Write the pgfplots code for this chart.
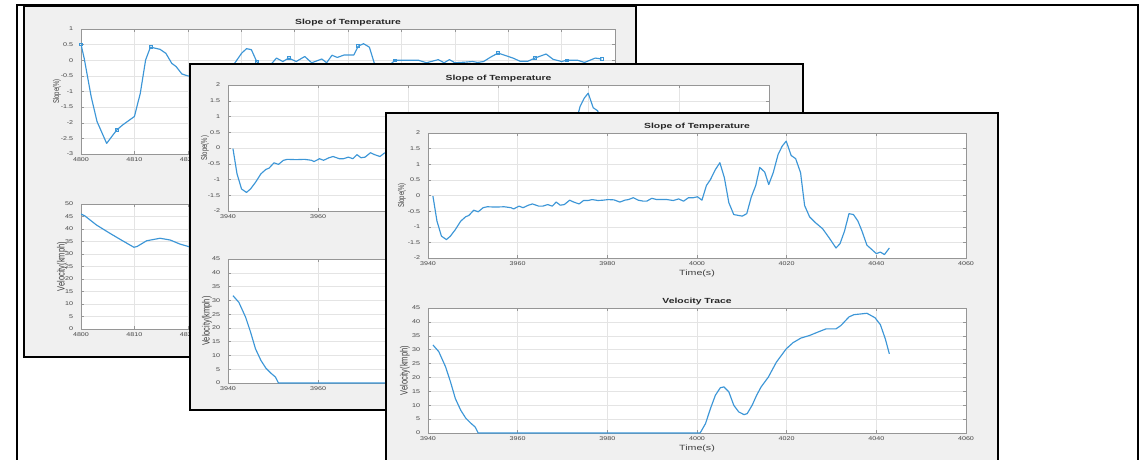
\documentclass[border=0pt]{standalone}
\usepackage{pgfplots}
\usepackage{pgfplotstable}
\pgfplotsset{compat=1.18}
\usepackage{fontspec}
\setmainfont{Liberation Sans}
\definecolor{mblue}{RGB}{60,150,215}
\definecolor{wingray}{RGB}{240,240,240}
\definecolor{gridc}{RGB}{228,228,228}
\definecolor{boxc}{RGB}{150,150,150}
\definecolor{tickc}{RGB}{70,70,70}

\pgfplotstableread{
t v
3941.1 -0.02
3942.0 -0.82
3943.0 -1.30
3944.1 -1.41
3945.0 -1.30
3946.1 -1.09
3947.3 -0.82
3948.4 -0.68
3949.1 -0.64
3950.2 -0.47
3951.2 -0.52
3952.3 -0.39
3953.2 -0.36
3955.1 -0.37
3957.0 -0.36
3958.5 -0.39
3959.1 -0.43
3960.3 -0.34
3961.2 -0.39
3962.4 -0.31
3963.3 -0.27
3964.7 -0.34
3965.6 -0.34
3966.7 -0.29
3967.7 -0.34
3968.6 -0.21
3969.5 -0.31
3970.4 -0.29
3971.6 -0.15
3972.5 -0.21
3973.7 -0.27
3974.7 -0.16
3975.7 -0.16
3976.6 -0.13
3977.9 -0.16
3979.0 -0.15
3980.2 -0.13
3981.5 -0.14
3982.8 -0.21
3983.9 -0.15
3984.7 -0.13
3985.8 -0.07
3986.9 -0.15
3988.0 -0.18
3988.8 -0.18
3989.9 -0.09
3991.0 -0.13
3992.1 -0.13
3993.3 -0.13
3994.7 -0.16
3995.9 -0.11
3997.0 -0.18
3998.1 -0.07
3999.2 -0.07
4000.1 -0.04
4001.1 -0.15
4002.1 0.32
4003.0 0.51
4004.1 0.83
4005.1 1.05
4006.1 0.57
4007.1 -0.23
4008.2 -0.61
4010.1 -0.66
4011.1 -0.58
4012.1 -0.05
4013.1 0.32
4014.0 0.90
4015.1 0.75
4016.0 0.35
4017.0 0.73
4018.1 1.32
4019.0 1.58
4019.9 1.74
4021.0 1.28
4022.0 1.18
4023.1 0.73
4024.0 -0.32
4025.1 -0.68
4026.5 -0.88
4028.0 -1.06
4029.5 -1.36
4031.0 -1.68
4031.9 -1.54
4032.9 -1.14
4033.9 -0.58
4034.9 -0.61
4035.9 -0.82
4036.8 -1.14
4037.9 -1.59
4039.0 -1.73
4040.0 -1.86
4040.9 -1.81
4041.8 -1.89
4042.9 -1.68
}\slopetab

\pgfplotstableread{
t v
3941.1 31.7
3942.4 29.3
3943.9 23.9
3945.0 18.5
3946.1 12.4
3947.3 8.2
3948.4 5.4
3949.5 3.6
3950.5 2.2
3951.2 0
4000.7 0
4001.9 3.4
4003.0 8.8
4004.1 13.6
4005.2 16.3
4006.0 16.6
4007.1 14.8
4008.2 10.0
4009.3 7.6
4010.5 6.6
4011.2 7.0
4012.3 10.0
4013.3 13.6
4014.3 16.6
4015.9 20.1
4017.7 25.5
4019.9 30.3
4021.4 32.5
4023.2 34.2
4025.1 35.1
4026.9 36.3
4028.8 37.5
4031.0 37.5
4032.1 38.7
4033.9 41.8
4035.0 42.6
4037.9 43.1
4039.7 41.5
4040.9 39.0
4042.0 33.9
4042.9 28.5
}\veltab

\pgfplotstableread{
t v
4800.0 0.51
4800.6 0.06
4801.9 -1.16
4803.0 -1.96
4804.8 -2.66
4806.7 -2.23
4807.8 -2.07
4810.0 -1.80
4811.1 -1.06
4812.1 0.01
4813.0 0.42
4814.8 0.35
4815.9 0.22
4817.0 -0.10
4817.8 -0.20
4818.9 -0.44
4820.0 -0.50
4822.0 -0.55
4825.0 -0.45
4827.5 -0.30
4828.8 -0.09
4830.1 0.23
4831.0 0.37
4831.9 0.34
4832.9 -0.04
4834.0 -0.30
4835.5 -0.15
4836.6 0.07
4837.8 -0.04
4838.9 0.07
4840.3 -0.04
4841.9 0.12
4843.2 -0.08
4845.1 0.04
4846.0 -0.08
4847.0 0.16
4848.0 0.09
4849.3 0.17
4851.1 0.17
4851.9 0.45
4852.9 0.53
4854.0 0.42
4854.9 -0.08
4856.0 -0.30
4857.5 -0.20
4858.8 0.00
4863.2 0.00
4864.7 -0.08
4866.9 0.02
4868.0 -0.08
4869.0 0.02
4870.0 -0.08
4872.0 -0.06
4873.3 -0.04
4874.3 -0.07
4875.4 -0.04
4876.7 0.10
4878.1 0.23
4880.9 0.07
4882.2 -0.03
4883.7 -0.03
4885.0 0.07
4887.1 0.20
4888.4 0.03
4890.0 -0.04
4891.0 0.00
4893.0 0.00
4894.3 -0.07
4896.3 0.07
4897.5 0.04
}\wslopetab

\pgfplotstableread{
t v
4800.0 0.51
4806.7 -2.23
4813.0 0.42
4832.9 -0.04
4838.9 0.07
4851.9 0.45
4858.8 0.00
4878.1 0.23
4885.0 0.07
4891.0 0.00
4897.5 0.04
}\wmarktab

\pgfplotstableread{
t v
4800.0 46.0
4800.75 45.2
4802.9 41.6
4805.4 38.3
4807.3 35.9
4809.9 32.7
4810.5 33.0
4812.3 35.3
4814.8 36.3
4816.7 35.6
4818.5 34.0
4820.1 33.0
4823.0 31.5
4826.0 30.0
}\wveltab

\pgfplotsset{
  mlab/.style={
    scale only axis,
    anchor=north west,
    axis background/.style={fill=white},
    axis line style={draw=boxc, line width=0.6pt},
    grid=major,
    major grid style={draw=gridc, line width=0.5pt},
    tick align=inside,
    tick pos=both,
    major tick length=3pt,
    tick style={draw=boxc, line width=0.5pt},
    every tick label/.append style={font=\fontsize{5.5}{5.5}\selectfont, text=tickc, xscale=1.3},
    xticklabel style={anchor=center, yshift=-6pt},
    yticklabel style={anchor=east, xshift=-2.5pt},
    /pgf/number format/assume math mode=true,
    /pgf/number format/1000 sep={},
    scaled ticks=false,
    every axis title/.style={at={(axis description cs:0.5,1)}, yshift=6pt, anchor=center, xscale=1.4, font=\bfseries\fontsize{7.4}{7.4}\selectfont, text=black!85},
    every axis x label/.style={at={(axis description cs:0.5,0)}, yshift=-15.5pt, anchor=center, xscale=1.4, font=\fontsize{7.6}{7.6}\selectfont, text=black!75},
  },
  ylab/.style 2 args={every axis y label/.style={at={(axis description cs:0,0.5)}, xshift=-#1pt, rotate=90, yscale=1.4, anchor=center, font=\fontsize{#2}{#2}\selectfont, text=black!75}},
  dline/.style={mblue, line width=1.15pt, line join=round},
}

\begin{document}
\begin{tikzpicture}
\useasboundingbox (0,0) rectangle (1147pt,-459pt);
\begin{scope}
\clip (0,0) rectangle (1147pt,-459pt);
% outer frame
\draw[line width=1.4pt, fill=white] (17pt,-5pt) rectangle (1138pt,-480pt);

% ===== Window 1 (back) =====
\draw[line width=2pt, fill=wingray] (24pt,-6pt) rectangle (636pt,-357pt);
\begin{axis}[mlab, ylab={24}{6}, at={(81pt,-29pt)}, width=534pt, height=125pt,
  xmin=4800, xmax=4900, ymin=-3, ymax=1,
  xtick={4800,4810,...,4900}, xticklabels={4800,4810,4820,,,,,,,,},
  ytick={-3,-2.5,...,1},
  title={Slope of Temperature}, ylabel={Slope(\%)}]
  \addplot[dline] table[x=t,y=v]{\wslopetab};
  \addplot[mblue, only marks, mark=square, mark size=1.4pt, mark options={line width=0.6pt}] table[x=t,y=v]{\wmarktab};
\end{axis}
\begin{axis}[mlab, ylab={19}{7.5}, at={(81pt,-204pt)}, width=534pt, height=125pt,
  xmin=4800, xmax=4900, ymin=0, ymax=50,
  xtick={4800,4810,...,4900}, xticklabels={4800,4810,4820,,,,,,,,},
  ytick={0,5,...,50},
  ylabel={Velocity(kmph)}]
  \addplot[dline] table[x=t,y=v]{\wveltab};
\end{axis}

% ===== Window 2 (middle) =====
\draw[line width=2pt, fill=wingray] (190pt,-64pt) rectangle (803pt,-410pt);
\begin{axis}[mlab, ylab={23}{6}, at={(228pt,-85pt)}, width=541pt, height=126pt,
  xmin=3940, xmax=4060, ymin=-2, ymax=2,
  xtick={3940,3960,...,4060}, xticklabels={3940,3960,,,,,},
  ytick={-2,-1.5,...,2},
  title={Slope of Temperature}, ylabel={Slope(\%)}]
  \addplot[dline] table[x=t,y=v]{\slopetab};
\end{axis}
\begin{axis}[mlab, ylab={21}{7.5}, at={(228pt,-259pt)}, width=541pt, height=124pt,
  xmin=3940, xmax=4060, ymin=0, ymax=45,
  xtick={3940,3960,...,4060}, xticklabels={3940,3960,,,,,},
  ytick={0,5,...,45},
  ylabel={Velocity(kmph)}]
  \addplot[dline] table[x=t,y=v]{\veltab};
\end{axis}

% ===== Window 3 (front) =====
\draw[line width=2pt, fill=wingray] (386pt,-113pt) rectangle (998pt,-480pt);
\begin{axis}[mlab, ylab={26}{6}, at={(428pt,-133pt)}, width=538pt, height=125pt,
  xmin=3940, xmax=4060, ymin=-2, ymax=2,
  xtick={3940,3960,...,4060}, ytick={-2,-1.5,...,2},
  title={Slope of Temperature}, ylabel={Slope(\%)}, xlabel={Time(s)}]
  \addplot[dline] table[x=t,y=v]{\slopetab};
\end{axis}
\begin{axis}[mlab, ylab={23}{7.5}, at={(428pt,-308pt)}, width=538pt, height=125pt,
  xmin=3940, xmax=4060, ymin=0, ymax=45,
  xtick={3940,3960,...,4060}, ytick={0,5,...,45},
  title={Velocity Trace}, ylabel={Velocity(kmph)}, xlabel={Time(s)}]
  \addplot[dline] table[x=t,y=v]{\veltab};
\end{axis}
\end{scope}
\end{tikzpicture}
\end{document}
